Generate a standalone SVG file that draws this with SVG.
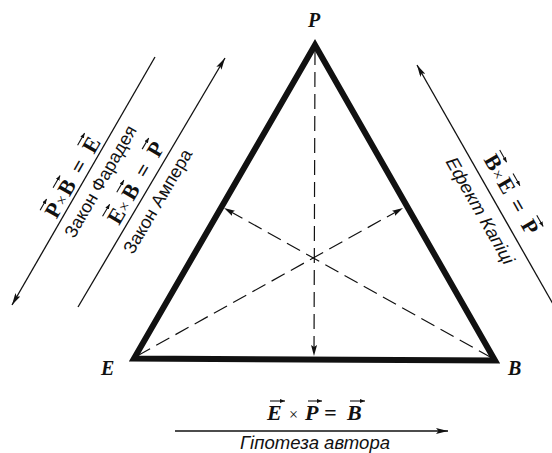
<svg xmlns="http://www.w3.org/2000/svg" width="552" height="453" viewBox="0 0 552 453">
<defs>
<marker id="ah" viewBox="0 0 12 6" refX="12" refY="3" markerWidth="12" markerHeight="6" markerUnits="userSpaceOnUse" orient="auto"><path d="M0,0 L12,3 L0,6 L2.5,3 z" fill="#111"/></marker>
<marker id="dh" viewBox="0 0 11 6" refX="11" refY="3" markerWidth="11" markerHeight="6" markerUnits="userSpaceOnUse" orient="auto"><path d="M0,0 L11,3 L0,6 L2,3 z" fill="#111"/></marker>
<marker id="vh" viewBox="0 0 5 4" refX="5" refY="2" markerWidth="5" markerHeight="4" markerUnits="userSpaceOnUse" orient="auto"><path d="M0,0 L5,2 L0,4 z" fill="#111"/></marker>
</defs>
<style>
.eq{font-family:"Liberation Serif","Times New Roman",serif;font-weight:bold;font-size:22px;fill:#111}
.eqi{font-style:italic}
.x{font-weight:normal;font-size:16px}
.lbl{font-family:"Liberation Sans",Arial,sans-serif;font-size:18px;fill:#111}
.it{font-style:italic}
.ln{stroke:#111;stroke-width:1.3;fill:none}
.dash{stroke:#111;stroke-width:1.2;stroke-dasharray:15 7;fill:none}
.tri{stroke:#111;stroke-width:6;fill:none;stroke-linejoin:miter}
.vec{stroke:#111;stroke-width:1.1;fill:none}
.vx{font-family:"Liberation Serif","Times New Roman",serif;font-weight:bold;font-style:italic;font-size:20px;fill:#111}
</style>

<g id="triangle">
<polygon class="tri" points="315,45 134,358.5 495,360.5"/>
</g>

<g id="node-P"><text class="vx" x="314" y="27" text-anchor="middle">P</text></g>
<g id="node-E"><text class="vx" x="101" y="375">E</text></g>
<g id="node-B"><text class="vx" x="508" y="375">B</text></g>

<g id="connectors">
<path class="dash" d="M315,50 L314,356" marker-end="url(#dh)"/>
<path class="dash" d="M137,356 L403,208" marker-end="url(#dh)"/>
<path class="dash" d="M492,358 L224,208" marker-end="url(#dh)"/>
<path class="ln" d="M155,57 L12,305" marker-end="url(#ah)"/>
<path class="ln" d="M78,307 L225,58" marker-end="url(#ah)"/>
<path class="ln" d="M553,304 L417,65" marker-end="url(#ah)"/>
<path class="ln" d="M175,431 L448,431" marker-end="url(#ah)"/>
</g>

<g id="faraday" transform="translate(83.5,181) rotate(-60)">
<text class="eq" y="-4"><tspan x="-47">P</tspan><tspan class="x" x="-32">×</tspan><tspan x="-21">B</tspan><tspan x="4">=</tspan><tspan x="28">E</tspan></text>
<path class="vec" d="M-47,-23 H-34" marker-end="url(#vh)"/>
<path class="vec" d="M-21,-23 H-7" marker-end="url(#vh)"/>
<path class="vec" d="M28,-23 H42" marker-end="url(#vh)"/>
<text class="lbl" x="8" y="21" text-anchor="middle" textLength="126" lengthAdjust="spacingAndGlyphs">Закон Фарадея</text>
</g>

<g id="ampere" transform="translate(151.5,182.5) rotate(-59.5)">
<text class="eq" y="-6"><tspan x="-54">E</tspan><tspan class="x" x="-39" font-size="20">×</tspan><tspan x="-26">B</tspan><tspan x="0">=</tspan><tspan x="24">P</tspan></text>
<path class="vec" d="M-54,-25 H-40" marker-end="url(#vh)"/>
<path class="vec" d="M-26,-25 H-12" marker-end="url(#vh)"/>
<path class="vec" d="M24,-25 H37" marker-end="url(#vh)"/>
<text class="lbl" x="-13" y="21" text-anchor="middle" textLength="118" lengthAdjust="spacingAndGlyphs">Закон Ампера</text>
</g>

<g id="kapitsa" transform="translate(484.5,184) rotate(60.4)">
<text class="eq" y="-11"><tspan x="-22">B</tspan><tspan class="x" x="-6">×</tspan><tspan x="5">E</tspan><tspan x="29">=</tspan><tspan x="53">P</tspan></text>
<path class="vec" d="M-22,-30 H-8" marker-end="url(#vh)"/>
<path class="vec" d="M5,-30 H19" marker-end="url(#vh)"/>
<path class="vec" d="M53,-30 H66" marker-end="url(#vh)"/>
<text class="lbl it" x="21" y="23" text-anchor="middle" textLength="120" lengthAdjust="spacingAndGlyphs">Ефект Капіці</text>
</g>

<g id="hypothesis">
<text class="eq eqi" y="420"><tspan x="267">E</tspan><tspan class="x" x="289" font-size="20" font-style="normal">×</tspan><tspan x="305">P</tspan><tspan x="324">=</tspan><tspan x="347">B</tspan></text>
<path class="vec" d="M270,401 H285" marker-end="url(#vh)"/>
<path class="vec" d="M308,401 H322" marker-end="url(#vh)"/>
<path class="vec" d="M350,401 H365" marker-end="url(#vh)"/>
<text class="lbl it" x="315" y="449" text-anchor="middle" textLength="150" lengthAdjust="spacingAndGlyphs">Гіпотеза автора</text>
</g>
</svg>
